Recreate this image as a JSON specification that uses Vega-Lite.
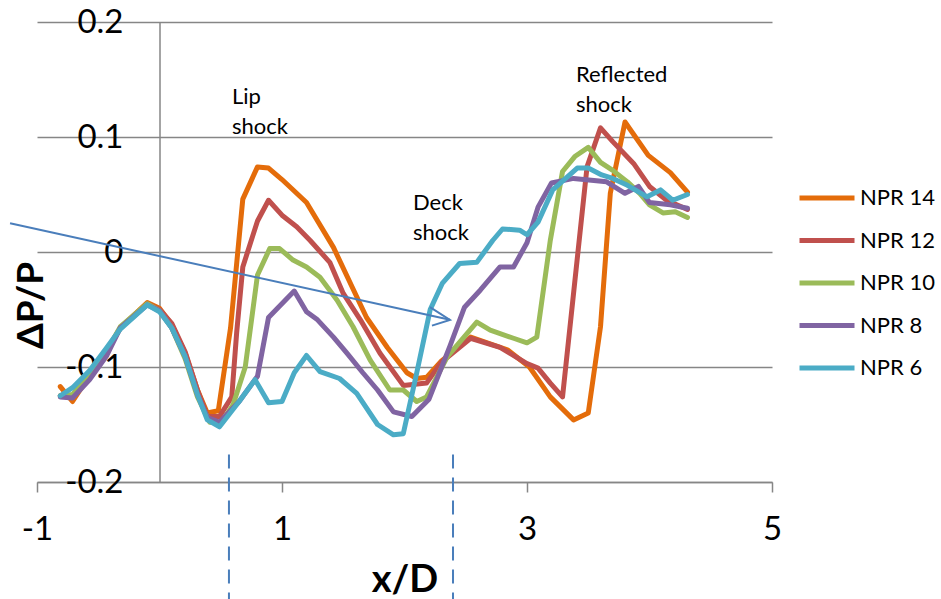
{
  "$schema": "https://vega.github.io/schema/vega-lite/v6.json",
  "width": 735,
  "height": 460,
  "autosize": "none",
  "padding": {"left": 37, "top": 22, "right": 169, "bottom": 117},
  "background": "white",
  "config": {"view": {"stroke": null}, "font": "Lato"},
  "datasets": {
    "curves": [
      {"s":"NPR 14","x":-0.81,"y":-0.117},{"s":"NPR 14","x":-0.71,"y":-0.13},{"s":"NPR 14","x":-0.57,"y":-0.107},{"s":"NPR 14","x":-0.43,"y":-0.086},{"s":"NPR 14","x":-0.32,"y":-0.066},{"s":"NPR 14","x":-0.1,"y":-0.044},{"s":"NPR 14","x":0.0,"y":-0.049},{"s":"NPR 14","x":0.1,"y":-0.063},{"s":"NPR 14","x":0.21,"y":-0.088},{"s":"NPR 14","x":0.31,"y":-0.12},{"s":"NPR 14","x":0.39,"y":-0.14},{"s":"NPR 14","x":0.48,"y":-0.138},{"s":"NPR 14","x":0.58,"y":-0.066},{"s":"NPR 14","x":0.68,"y":0.046},{"s":"NPR 14","x":0.8,"y":0.074},{"s":"NPR 14","x":0.89,"y":0.073},{"s":"NPR 14","x":1.0,"y":0.063},{"s":"NPR 14","x":1.2,"y":0.043},{"s":"NPR 14","x":1.42,"y":0.004},{"s":"NPR 14","x":1.69,"y":-0.057},{"s":"NPR 14","x":1.86,"y":-0.083},{"s":"NPR 14","x":2.02,"y":-0.105},{"s":"NPR 14","x":2.1,"y":-0.11},{"s":"NPR 14","x":2.18,"y":-0.109},{"s":"NPR 14","x":2.3,"y":-0.095},{"s":"NPR 14","x":2.54,"y":-0.074},{"s":"NPR 14","x":2.84,"y":-0.085},{"s":"NPR 14","x":3.02,"y":-0.1},{"s":"NPR 14","x":3.19,"y":-0.126},{"s":"NPR 14","x":3.38,"y":-0.146},{"s":"NPR 14","x":3.5,"y":-0.14},{"s":"NPR 14","x":3.6,"y":-0.065},{"s":"NPR 14","x":3.68,"y":0.051},{"s":"NPR 14","x":3.8,"y":0.113},{"s":"NPR 14","x":3.99,"y":0.084},{"s":"NPR 14","x":4.17,"y":0.069},{"s":"NPR 14","x":4.31,"y":0.052},
      {"s":"NPR 12","x":-0.81,"y":-0.125},{"s":"NPR 12","x":-0.71,"y":-0.125},{"s":"NPR 12","x":-0.57,"y":-0.106},{"s":"NPR 12","x":-0.43,"y":-0.086},{"s":"NPR 12","x":-0.32,"y":-0.066},{"s":"NPR 12","x":-0.1,"y":-0.045},{"s":"NPR 12","x":0.0,"y":-0.05},{"s":"NPR 12","x":0.1,"y":-0.062},{"s":"NPR 12","x":0.21,"y":-0.087},{"s":"NPR 12","x":0.31,"y":-0.12},{"s":"NPR 12","x":0.39,"y":-0.143},{"s":"NPR 12","x":0.49,"y":-0.143},{"s":"NPR 12","x":0.59,"y":-0.126},{"s":"NPR 12","x":0.63,"y":-0.07},{"s":"NPR 12","x":0.68,"y":-0.013},{"s":"NPR 12","x":0.8,"y":0.027},{"s":"NPR 12","x":0.89,"y":0.045},{"s":"NPR 12","x":1.0,"y":0.032},{"s":"NPR 12","x":1.12,"y":0.022},{"s":"NPR 12","x":1.23,"y":0.01},{"s":"NPR 12","x":1.39,"y":-0.009},{"s":"NPR 12","x":1.5,"y":-0.036},{"s":"NPR 12","x":1.64,"y":-0.059},{"s":"NPR 12","x":1.8,"y":-0.088},{"s":"NPR 12","x":1.99,"y":-0.116},{"s":"NPR 12","x":2.18,"y":-0.114},{"s":"NPR 12","x":2.3,"y":-0.096},{"s":"NPR 12","x":2.54,"y":-0.075},{"s":"NPR 12","x":2.78,"y":-0.083},{"s":"NPR 12","x":3.0,"y":-0.097},{"s":"NPR 12","x":3.09,"y":-0.101},{"s":"NPR 12","x":3.19,"y":-0.114},{"s":"NPR 12","x":3.29,"y":-0.126},{"s":"NPR 12","x":3.49,"y":0.074},{"s":"NPR 12","x":3.6,"y":0.108},{"s":"NPR 12","x":3.7,"y":0.096},{"s":"NPR 12","x":3.87,"y":0.077},{"s":"NPR 12","x":4.0,"y":0.057},{"s":"NPR 12","x":4.14,"y":0.045},{"s":"NPR 12","x":4.31,"y":0.037},
      {"s":"NPR 10","x":-0.81,"y":-0.125},{"s":"NPR 10","x":-0.71,"y":-0.124},{"s":"NPR 10","x":-0.57,"y":-0.106},{"s":"NPR 10","x":-0.43,"y":-0.086},{"s":"NPR 10","x":-0.32,"y":-0.065},{"s":"NPR 10","x":-0.1,"y":-0.045},{"s":"NPR 10","x":0.0,"y":-0.051},{"s":"NPR 10","x":0.1,"y":-0.066},{"s":"NPR 10","x":0.21,"y":-0.093},{"s":"NPR 10","x":0.31,"y":-0.126},{"s":"NPR 10","x":0.41,"y":-0.148},{"s":"NPR 10","x":0.5,"y":-0.149},{"s":"NPR 10","x":0.6,"y":-0.133},{"s":"NPR 10","x":0.7,"y":-0.1},{"s":"NPR 10","x":0.8,"y":-0.02},{"s":"NPR 10","x":0.9,"y":0.003},{"s":"NPR 10","x":0.98,"y":0.003},{"s":"NPR 10","x":1.09,"y":-0.007},{"s":"NPR 10","x":1.2,"y":-0.013},{"s":"NPR 10","x":1.31,"y":-0.022},{"s":"NPR 10","x":1.45,"y":-0.042},{"s":"NPR 10","x":1.58,"y":-0.065},{"s":"NPR 10","x":1.72,"y":-0.094},{"s":"NPR 10","x":1.88,"y":-0.12},{"s":"NPR 10","x":1.99,"y":-0.12},{"s":"NPR 10","x":2.1,"y":-0.13},{"s":"NPR 10","x":2.18,"y":-0.126},{"s":"NPR 10","x":2.35,"y":-0.091},{"s":"NPR 10","x":2.59,"y":-0.061},{"s":"NPR 10","x":2.7,"y":-0.068},{"s":"NPR 10","x":2.89,"y":-0.075},{"s":"NPR 10","x":3.0,"y":-0.079},{"s":"NPR 10","x":3.08,"y":-0.074},{"s":"NPR 10","x":3.19,"y":0.01},{"s":"NPR 10","x":3.29,"y":0.07},{"s":"NPR 10","x":3.39,"y":0.083},{"s":"NPR 10","x":3.5,"y":0.091},{"s":"NPR 10","x":3.6,"y":0.078},{"s":"NPR 10","x":3.7,"y":0.071},{"s":"NPR 10","x":3.82,"y":0.061},{"s":"NPR 10","x":3.92,"y":0.051},{"s":"NPR 10","x":4.0,"y":0.041},{"s":"NPR 10","x":4.11,"y":0.034},{"s":"NPR 10","x":4.21,"y":0.035},{"s":"NPR 10","x":4.31,"y":0.03},
      {"s":"NPR 8","x":-0.81,"y":-0.126},{"s":"NPR 8","x":-0.71,"y":-0.127},{"s":"NPR 8","x":-0.57,"y":-0.111},{"s":"NPR 8","x":-0.43,"y":-0.09},{"s":"NPR 8","x":-0.32,"y":-0.066},{"s":"NPR 8","x":-0.1,"y":-0.046},{"s":"NPR 8","x":0.0,"y":-0.051},{"s":"NPR 8","x":0.1,"y":-0.066},{"s":"NPR 8","x":0.21,"y":-0.091},{"s":"NPR 8","x":0.31,"y":-0.124},{"s":"NPR 8","x":0.39,"y":-0.144},{"s":"NPR 8","x":0.49,"y":-0.148},{"s":"NPR 8","x":0.65,"y":-0.13},{"s":"NPR 8","x":0.8,"y":-0.108},{"s":"NPR 8","x":0.89,"y":-0.057},{"s":"NPR 8","x":1.1,"y":-0.034},{"s":"NPR 8","x":1.2,"y":-0.052},{"s":"NPR 8","x":1.29,"y":-0.059},{"s":"NPR 8","x":1.42,"y":-0.074},{"s":"NPR 8","x":1.53,"y":-0.088},{"s":"NPR 8","x":1.66,"y":-0.105},{"s":"NPR 8","x":1.78,"y":-0.12},{"s":"NPR 8","x":1.91,"y":-0.139},{"s":"NPR 8","x":2.06,"y":-0.143},{"s":"NPR 8","x":2.2,"y":-0.128},{"s":"NPR 8","x":2.37,"y":-0.082},{"s":"NPR 8","x":2.49,"y":-0.048},{"s":"NPR 8","x":2.62,"y":-0.033},{"s":"NPR 8","x":2.78,"y":-0.013},{"s":"NPR 8","x":2.89,"y":-0.013},{"s":"NPR 8","x":3.0,"y":0.008},{"s":"NPR 8","x":3.09,"y":0.039},{"s":"NPR 8","x":3.2,"y":0.06},{"s":"NPR 8","x":3.38,"y":0.064},{"s":"NPR 8","x":3.65,"y":0.061},{"s":"NPR 8","x":3.8,"y":0.051},{"s":"NPR 8","x":3.91,"y":0.057},{"s":"NPR 8","x":4.0,"y":0.043},{"s":"NPR 8","x":4.17,"y":0.041},{"s":"NPR 8","x":4.31,"y":0.038},
      {"s":"NPR 6","x":-0.81,"y":-0.125},{"s":"NPR 6","x":-0.71,"y":-0.118},{"s":"NPR 6","x":-0.57,"y":-0.103},{"s":"NPR 6","x":-0.43,"y":-0.083},{"s":"NPR 6","x":-0.32,"y":-0.067},{"s":"NPR 6","x":-0.1,"y":-0.046},{"s":"NPR 6","x":0.0,"y":-0.052},{"s":"NPR 6","x":0.1,"y":-0.066},{"s":"NPR 6","x":0.21,"y":-0.091},{"s":"NPR 6","x":0.31,"y":-0.124},{"s":"NPR 6","x":0.39,"y":-0.146},{"s":"NPR 6","x":0.49,"y":-0.152},{"s":"NPR 6","x":0.65,"y":-0.13},{"s":"NPR 6","x":0.78,"y":-0.111},{"s":"NPR 6","x":0.89,"y":-0.131},{"s":"NPR 6","x":1.0,"y":-0.13},{"s":"NPR 6","x":1.1,"y":-0.105},{"s":"NPR 6","x":1.2,"y":-0.09},{"s":"NPR 6","x":1.31,"y":-0.104},{"s":"NPR 6","x":1.47,"y":-0.11},{"s":"NPR 6","x":1.61,"y":-0.123},{"s":"NPR 6","x":1.78,"y":-0.15},{"s":"NPR 6","x":1.91,"y":-0.159},{"s":"NPR 6","x":1.99,"y":-0.158},{"s":"NPR 6","x":2.1,"y":-0.105},{"s":"NPR 6","x":2.21,"y":-0.05},{"s":"NPR 6","x":2.31,"y":-0.027},{"s":"NPR 6","x":2.45,"y":-0.01},{"s":"NPR 6","x":2.59,"y":-0.009},{"s":"NPR 6","x":2.72,"y":0.01},{"s":"NPR 6","x":2.8,"y":0.02},{"s":"NPR 6","x":2.94,"y":0.019},{"s":"NPR 6","x":3.0,"y":0.015},{"s":"NPR 6","x":3.09,"y":0.026},{"s":"NPR 6","x":3.21,"y":0.054},{"s":"NPR 6","x":3.41,"y":0.073},{"s":"NPR 6","x":3.5,"y":0.073},{"s":"NPR 6","x":3.61,"y":0.067},{"s":"NPR 6","x":3.7,"y":0.064},{"s":"NPR 6","x":3.82,"y":0.058},{"s":"NPR 6","x":3.98,"y":0.048},{"s":"NPR 6","x":4.09,"y":0.054},{"s":"NPR 6","x":4.19,"y":0.045},{"s":"NPR 6","x":4.31,"y":0.05}
    ],
    "arrow": [
      {"g":"shaft","k":0,"x":-1.22,"y":0.025},{"g":"shaft","k":1,"x":2.371,"y":-0.059},
      {"g":"head","k":0,"x":2.208,"y":-0.048},{"g":"head","k":1,"x":2.371,"y":-0.059},{"g":"head","k":2,"x":2.224,"y":-0.064}
    ],
    "dashes": [
      {"g":"d1","k":0,"x":0.567,"y":-0.176},{"g":"d1","k":1,"x":0.567,"y":-0.31},
      {"g":"d2","k":0,"x":2.396,"y":-0.176},{"g":"d2","k":1,"x":2.396,"y":-0.31}
    ],
    "notes": [
      {"t":"Lip","x":0.592,"y":0.135},{"t":"shock","x":0.592,"y":0.109},
      {"t":"Deck","x":2.069,"y":0.0426},{"t":"shock","x":2.069,"y":0.0165},
      {"t":"Reflected","x":3.4,"y":0.154},{"t":"shock","x":3.4,"y":0.128}
    ]
  },
  "layer": [
    {
      "data": {"name": "curves"},
      "mark": {"type": "line", "strokeWidth": 5, "strokeJoin": "round", "strokeCap": "round"},
      "encoding": {
        "x": {"field": "x", "type": "quantitative", "scale": {"domain": [-1, 5], "nice": false, "zero": false},
          "axis": {"values": [-1, 1, 3, 5], "grid": false, "format": "d", "labelExpr": "replace(datum.label, '−', '-')",
            "domainColor": "#868686", "domainWidth": 1.5, "tickColor": "#868686", "tickWidth": 1.5, "tickSize": 10,
            "labelFont": "Lato", "labelFontSize": 33, "labelColor": "#000", "labelBaseline": "middle", "labelPadding": 37, "labelFlush": false, "labelOverlap": false,
            "title": "x/D", "titleFont": "Lato", "titleFontSize": 38, "titleFontWeight": "bold", "titleColor": "#000", "titleBaseline": "alphabetic", "titleY": 109}},
        "y": {"field": "y", "type": "quantitative", "scale": {"domain": [-0.2, 0.2], "nice": false, "zero": false},
          "axis": {"values": [-0.2, -0.1, 0, 0.1, 0.2], "offset": -122.5, "grid": true, "gridColor": "#868686", "gridWidth": 1.5,
            "domainColor": "#868686", "domainWidth": 1.5, "ticks": false, "tickSize": 0, "format": "~g", "labelExpr": "replace(datum.label, '−', '-')",
            "labelFont": "Lato", "labelFontSize": 33, "labelColor": "#000", "labelBaseline": "middle", "labelPadding": 36.5, "labelOverlap": false, "labelFlush": false,
            "title": "ΔP/P", "titleFont": "Lato", "titleFontSize": 37, "titleFontWeight": "bold", "titleColor": "#000", "titleAngle": -90, "titleAlign": "center", "titleBaseline": "alphabetic", "titleX": -117, "titleY": 283}},
        "color": {"field": "s", "type": "nominal",
          "scale": {"domain": ["NPR 14", "NPR 12", "NPR 10", "NPR 8", "NPR 6"], "range": ["#E46C0A", "#C0504D", "#9BBB59", "#8064A2", "#4BACC6"]},
          "legend": {"orient": "none", "legendX": 760, "legendY": 164, "title": null, "symbolType": "stroke", "symbolSize": 3025, "symbolStrokeWidth": 5,
            "labelFont": "Lato", "labelFontSize": 22, "labelColor": "#000", "clipHeight": 24, "rowPadding": 18.5, "labelOffset": 3, "padding": 0}},
        "order": {"value": 0}
      }
    },
    {
      "data": {"name": "arrow"},
      "mark": {"type": "line", "color": "#4A7EBB", "strokeWidth": 2},
      "encoding": {
        "x": {"field": "x", "type": "quantitative", "scale": {"domain": [-1, 5], "nice": false, "zero": false}},
        "y": {"field": "y", "type": "quantitative", "scale": {"domain": [-0.2, 0.2], "nice": false, "zero": false}},
        "detail": {"field": "g"},
        "order": {"field": "k"}
      }
    },
    {
      "data": {"name": "dashes"},
      "mark": {"type": "line", "color": "#4A7EBB", "strokeWidth": 2, "strokeDash": [14, 9]},
      "encoding": {
        "x": {"field": "x", "type": "quantitative", "scale": {"domain": [-1, 5], "nice": false, "zero": false}},
        "y": {"field": "y", "type": "quantitative", "scale": {"domain": [-0.2, 0.2], "nice": false, "zero": false}},
        "detail": {"field": "g"},
        "order": {"field": "k"}
      }
    },
    {
      "data": {"name": "notes"},
      "mark": {"type": "text", "align": "left", "baseline": "middle", "font": "Lato", "fontSize": 22, "color": "#000"},
      "encoding": {
        "x": {"field": "x", "type": "quantitative", "scale": {"domain": [-1, 5], "nice": false, "zero": false}},
        "y": {"field": "y", "type": "quantitative", "scale": {"domain": [-0.2, 0.2], "nice": false, "zero": false}},
        "text": {"field": "t"}
      }
    }
  ]
}
